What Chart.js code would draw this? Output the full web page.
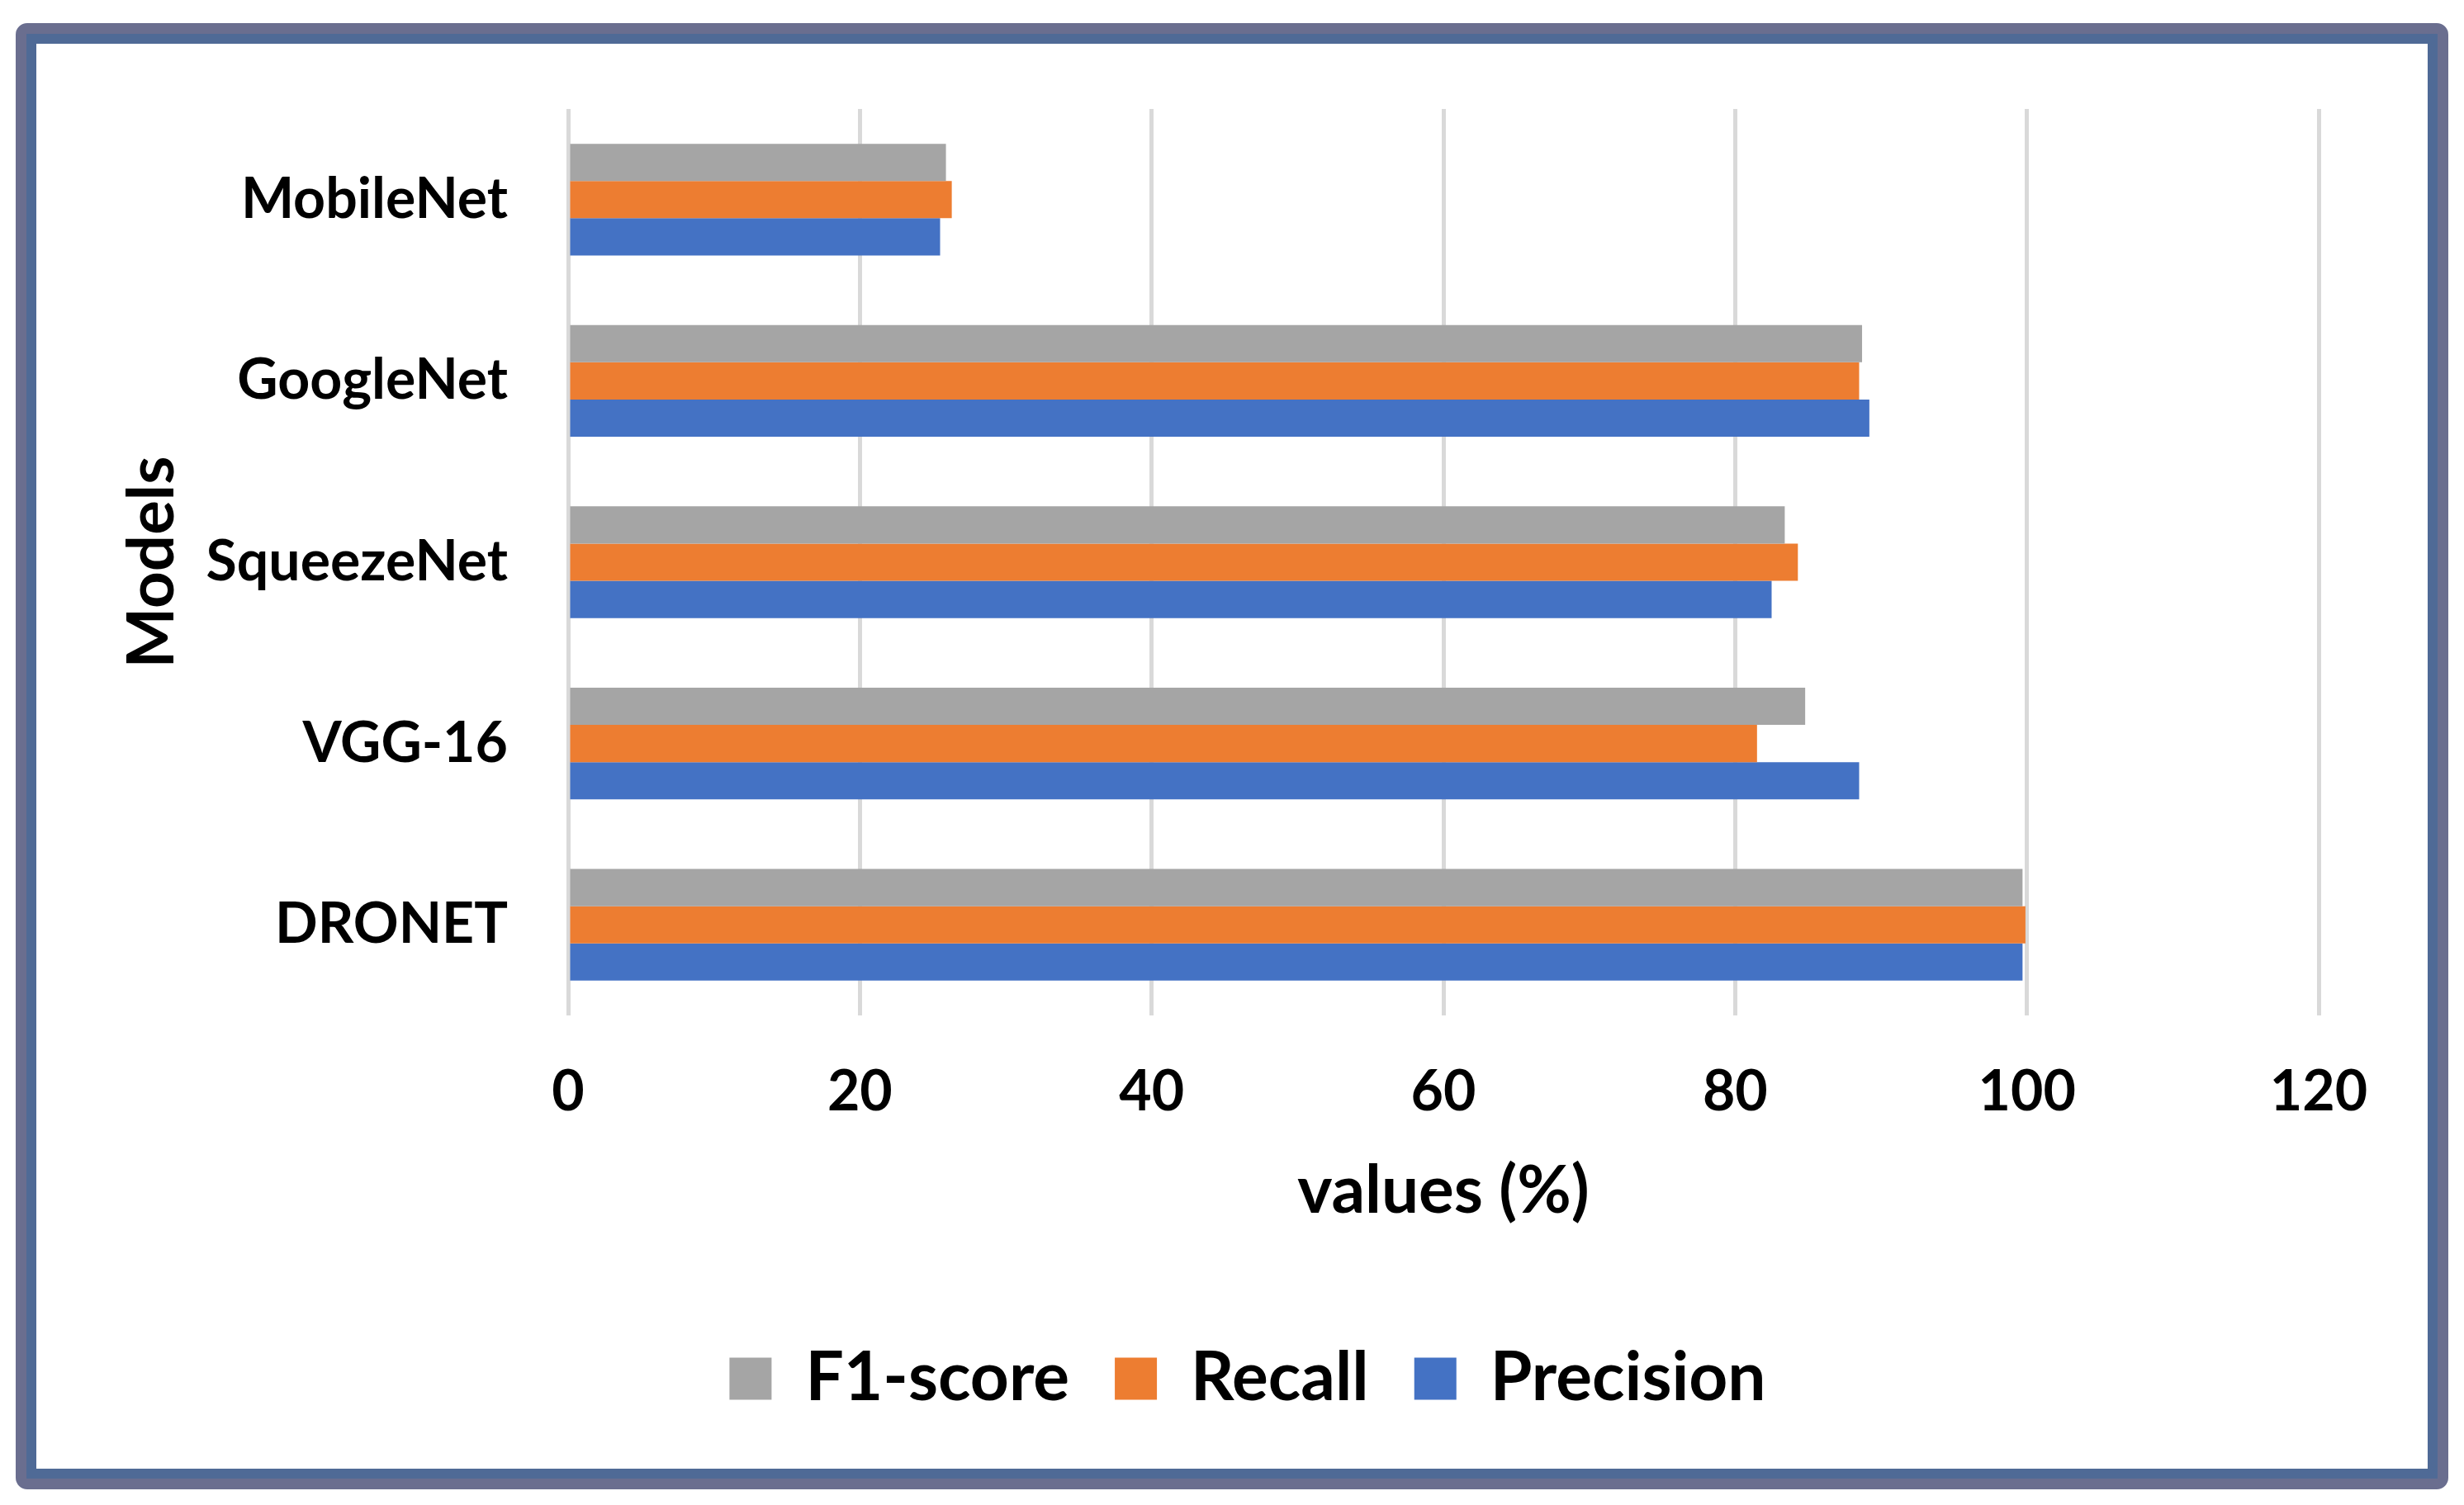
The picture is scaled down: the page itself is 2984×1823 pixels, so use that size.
<!DOCTYPE html>
<html>
<head>
<meta charset="utf-8">
<script src="https://cdn.jsdelivr.net/npm/chart.js@4.4.1/dist/chart.umd.min.js"></script>
<style>
    html, body { margin: 0; padding: 0; background: #fff; }
    .frame {
        position: absolute; left: 19px; top: 28px; width: 2946px; height: 1776px;
        box-sizing: border-box; border: 13px solid #6a6e8f; border-radius: 14px;
    }
    .inner {
        position: absolute; left: 0; top: 0; right: 0; bottom: 0;
        border: 12px solid #4f6a96;
    }
    .wrap { position: absolute; left: 0; top: 0; width: 2984px; height: 1823px; }
</style>
</head>
<body>
<div class="frame"><div class="inner"></div></div>
<div class="wrap"><canvas id="myChart"></canvas></div>
<script>
var models = ['MobileNet', 'GoogleNet', 'SqueezeNet', 'VGG-16', 'DRONET'];
var f1Score = [25.9, 88.7, 83.4, 84.8, 99.7];
var recall = [26.3, 88.5, 84.3, 81.5, 99.9];
var precision = [25.5, 89.2, 82.5, 88.5, 99.7];
var xMin = 0, xMax = 120, xStep = 20;

var myChart;

// legend sits a bit right of the canvas centre in the original
var legendShift = {
    id: 'legendShift',
    afterLayout: function (chart) {
        if (chart.legend) {
            chart.legend.left += 38;
            chart.legend.right += 38;
        }
    }
};

function drawChart() {
    var ctx = document.getElementById('myChart').getContext('2d');
    Chart.defaults.font.family = "'Lato', 'Open Sans', sans-serif";
    Chart.defaults.color = '#000';
    myChart = new Chart(ctx, {
        type: 'bar',
        data: {
            labels: models,
            datasets: [{
                label: 'F1-score',
                data: f1Score,
                backgroundColor: '#a5a5a5'
            }, {
                label: 'Recall',
                data: recall,
                backgroundColor: '#ed7d31'
            }, {
                label: 'Precision',
                data: precision,
                backgroundColor: '#4472c4'
            }]
        },
        plugins: [legendShift],
        options: {
            indexAxis: 'y',
            animation: false,
            responsive: true,
            maintainAspectRatio: false,
            devicePixelRatio: 1,
            categoryPercentage: 0.616,
            barPercentage: 1,
            layout: {
                padding: { left: 138, top: 132, right: 176, bottom: 102 }
            },
            plugins: {
                tooltip: { enabled: false },
                legend: {
                    position: 'bottom',
                    labels: {
                        boxWidth: 51,
                        boxHeight: 51,
                        padding: 55,
                        color: '#000',
                        font: { size: 82, weight: 'bold' }
                    }
                }
            },
            scales: {
                x: {
                    min: xMin,
                    max: xMax,
                    ticks: {
                        stepSize: xStep,
                        padding: 52,
                        color: '#000',
                        font: { size: 68, weight: 'bold' }
                    },
                    grid: {
                        color: '#d9d9d9',
                        lineWidth: 5,
                        drawTicks: false
                    },
                    border: { display: false },
                    title: {
                        display: true,
                        text: 'values (%)',
                        color: '#000',
                        padding: { top: 0, bottom: 83 },
                        font: { size: 80, weight: 'bold' }
                    },
                    afterFit: function (scale) {
                        scale.height = 344;
                    }
                },
                y: {
                    ticks: {
                        padding: 73,
                        color: '#000',
                        font: { size: 68, weight: 'bold' }
                    },
                    grid: {
                        display: false,
                        drawTicks: false
                    },
                    border: { display: false },
                    title: {
                        display: true,
                        text: 'Models',
                        color: '#000',
                        padding: { top: 0, bottom: 0 },
                        font: { size: 78, weight: 'bold' }
                    },
                    afterFit: function (scale) {
                        scale.width = 550;
                    }
                }
            }
        }
    });
}

if (document.fonts && document.fonts.load) {
    document.fonts.load('bold 68px Lato').then(drawChart, drawChart);
} else {
    drawChart();
}
</script>
</body>
</html>
